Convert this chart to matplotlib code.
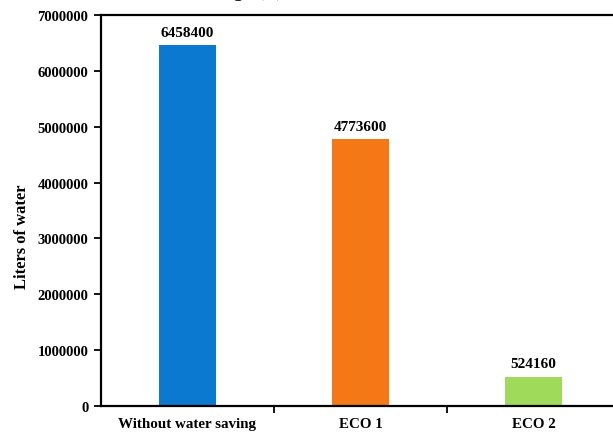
import matplotlib
matplotlib.use("Agg")
import matplotlib.pyplot as plt
import numpy as np

categories = ["Without water saving", "ECO 1", "ECO 2"]
values = [6458400, 4773600, 524160]
colors = ["#0a79cf", "#f47916", "#9fda5a"]
yticks = [0, 1000000, 2000000, 3000000, 4000000, 5000000, 6000000, 7000000]

plt.rcParams['font.family'] = ['Liberation Serif', 'DejaVu Serif']

fig = plt.figure(figsize=(6.13, 4.35), dpi=100)
ax = fig.add_axes([101/613, 1 - 407/435, 519/613, 391/435])

x = np.arange(len(categories))
ax.bar(x, values, width=0.335, color=colors, zorder=2)
for xi, v in zip(x, values):
    ax.text(xi, v + 120000, f"{v}", ha='center', va='bottom',
            fontsize=11, fontweight='bold')

ax.set_xlim(-0.5, 2.5)
ax.set_ylim(0, 7000000)
ax.set_yticks(yticks)
ax.set_yticklabels([str(t) for t in yticks], fontsize=10.5, fontweight='bold')
ax.set_xticks(x)
ax.set_xticklabels(categories, fontsize=10.8, fontweight='bold')
ax.tick_params(axis='x', which='major', length=0, pad=8)
ax.set_xticks([0.5, 1.5], minor=True)
ax.tick_params(axis='x', which='minor', length=5, width=1.3, direction='out')
ax.tick_params(axis='y', length=5, width=1.3, direction='out', pad=4)
ax.set_ylabel("Liters of water", fontsize=12, fontweight='bold')
ax.yaxis.set_label_coords(-0.137, 0.435)

for s in ['left', 'bottom', 'top']:
    ax.spines[s].set_linewidth(1.6)
ax.spines['right'].set_visible(False)

fig.text(283/613, 1 + 4.0/435, "Water savings (L)", ha='right', va='baseline', fontsize=15)

fig.savefig("out.png", dpi=100)
